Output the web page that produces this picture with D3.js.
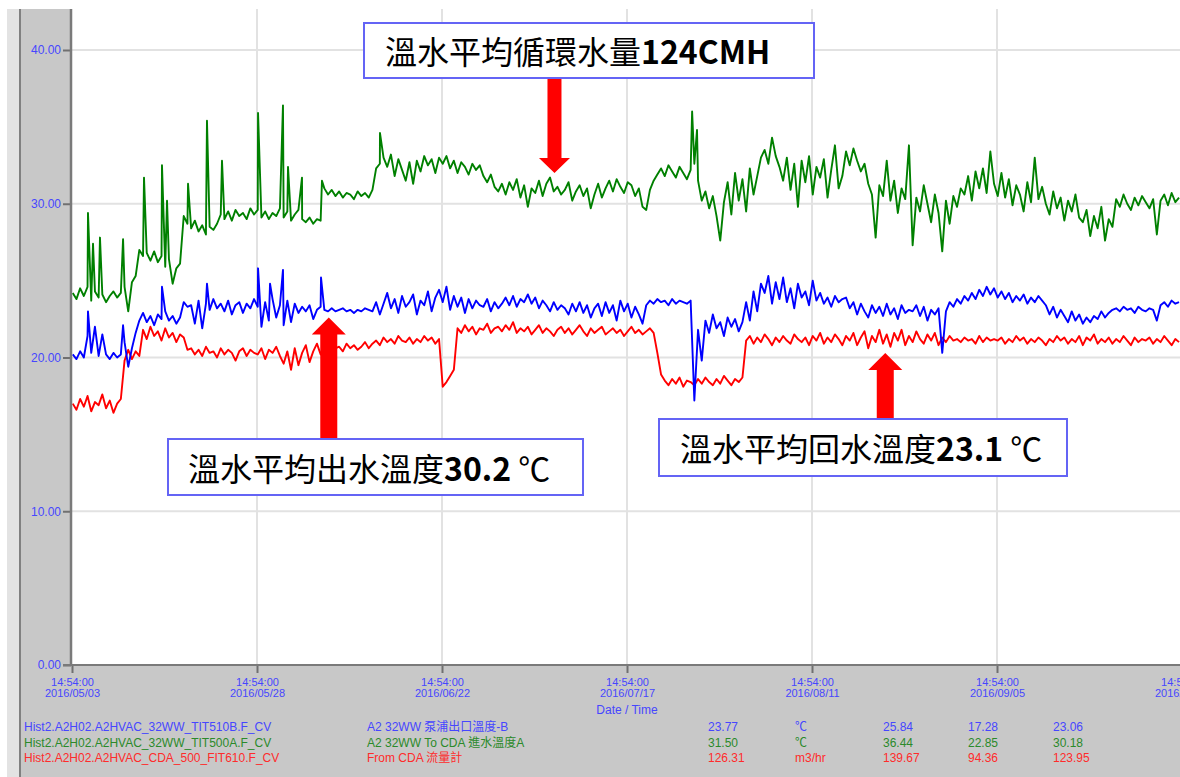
<!DOCTYPE html>
<html><head><meta charset="utf-8">
<script src="https://cdn.jsdelivr.net/npm/d3@7"></script>
<style>
html,body{margin:0;padding:0;background:#fff;overflow:hidden}
svg{display:block}
</style></head><body>
<svg id="chart" width="1180" height="777"></svg>
<script>
// ---------------- DATA ----------------
const yTickValues = [0, 10, 20, 30, 40];
const tickDates = ["2016/05/03","2016/05/28","2016/06/22","2016/07/17","2016/08/11","2016/09/05","2016/09/30"];
const tickTime = "14:54:00";
const startStamp = "2016/05/03 14:54:00";
const sampleStepDays = 0.5;     // one reading every 12 h
const sampleOffsetDays = 0.1;

// 32WW To CDA 進水溫度A (green)
const greenVals = [
24.2,23.8,24.5,24.0,24.6,23.7,24.3,23.9,24.1,23.6,
24.0,24.3,23.9,24.2,24.6,23.0,24.9,25.3,27.0,26.6,
26.8,26.3,26.9,26.2,26.6,25.9,26.4,24.8,25.8,26.1,
29.2,28.7,28.4,28.9,28.2,28.6,28.0,28.5,28.3,28.7,
29.3,29.0,29.5,28.9,29.6,29.2,29.4,29.0,29.7,29.3,
29.6,29.1,29.5,29.0,29.4,29.2,29.7,29.1,29.5,28.9,
29.3,29.6,29.0,28.8,29.1,28.7,29.0,28.9,31.0,30.6,
30.9,30.5,30.8,30.4,30.7,30.6,30.3,30.8,30.5,30.7,
30.4,30.9,32.3,32.6,33.0,32.4,33.2,31.8,32.9,32.2,
31.5,32.7,31.3,32.8,32.1,33.1,32.5,32.9,32.0,33.0,
32.6,33.1,32.3,32.8,32.0,32.7,32.4,31.9,32.6,32.2,
32.5,31.8,31.4,31.9,31.1,30.8,31.3,30.6,31.4,30.9,
31.6,30.4,31.2,29.8,31.0,30.7,31.5,30.5,31.3,31.7,
30.8,31.1,30.6,30.9,31.4,30.2,30.8,31.2,30.5,31.0,
29.7,30.6,31.3,30.4,31.0,31.5,30.8,31.6,31.1,30.7,
31.4,31.2,30.5,31.0,29.8,29.6,30.9,31.5,31.9,32.3,
31.8,32.5,32.1,31.7,32.4,32.0,31.6,32.2,32.6,31.5,
30.2,30.8,29.7,30.5,29.2,27.6,30.1,31.4,29.3,32.0,
30.2,31.6,29.5,32.3,30.6,31.8,33.0,33.5,32.6,34.3,
33.1,32.4,31.5,33.0,30.9,32.6,29.8,32.8,31.4,33.1,
30.6,32.4,31.7,32.9,30.4,32.2,33.8,31.0,31.8,33.4,
32.5,33.6,32.8,32.1,32.6,31.3,30.6,27.8,31.2,30.5,
32.8,30.2,31.5,29.4,31.0,30.3,33.8,27.3,30.4,29.5,
31.2,30.0,28.8,30.6,29.4,26.9,30.2,28.7,30.5,29.8,
31.0,30.6,31.8,30.2,32.1,31.0,32.3,30.7,33.4,31.3,
30.5,32.0,30.4,31.6,29.9,31.2,30.6,29.5,31.4,30.1,
33.0,30.3,31.1,30.0,29.3,30.8,29.7,30.4,28.9,30.2,
29.5,30.6,29.1,28.8,29.6,27.9,29.2,28.4,29.8,27.6,
29.0,28.5,30.3,29.8,30.6,30.0,29.6,30.4,29.9,30.5,
30.1,29.7,30.3,28.0,30.2,30.6,29.9,30.7,30.1,30.4
];
// 泵浦出口溫度-B (blue)
const blueVals = [
20.2,19.9,20.4,20.0,21.4,20.3,22.0,20.1,21.5,20.2,
19.9,20.3,20.0,20.2,21.0,19.4,20.6,21.6,22.4,22.9,
22.3,22.7,22.1,22.8,22.5,23.0,22.4,22.7,22.2,22.6,
23.6,23.3,23.4,22.2,23.7,21.9,23.5,23.1,23.8,23.2,
23.5,23.0,23.7,22.8,23.4,23.6,22.9,23.5,23.2,23.8,
23.3,22.0,23.6,22.4,23.8,22.6,23.4,22.1,23.7,22.3,
23.5,22.9,23.3,23.0,23.4,22.5,23.1,23.3,23.1,23.0,
23.2,23.0,23.1,23.2,23.0,23.1,22.9,23.1,23.0,23.2,
23.1,23.0,23.6,22.8,23.5,24.2,23.2,23.8,22.9,24.0,
23.3,23.6,24.1,22.8,23.7,23.4,24.3,23.0,23.9,24.4,
23.6,24.6,23.1,24.0,23.3,23.9,22.9,23.8,23.2,23.7,
23.4,23.3,23.8,23.0,23.6,23.2,23.5,23.9,23.4,24.0,
23.3,23.8,23.6,24.1,23.5,23.9,23.2,23.7,23.4,23.0,
23.6,23.1,23.4,23.2,22.8,23.5,23.0,23.6,22.9,23.4,
22.6,23.2,23.5,22.7,23.6,22.9,23.4,22.4,23.7,23.0,
23.5,22.6,23.3,22.8,22.2,23.4,23.7,23.5,23.8,23.6,
23.7,23.4,23.8,23.5,23.7,23.6,23.5,23.7,17.2,21.8,
19.8,22.4,21.6,22.8,21.9,22.3,21.4,22.6,22.0,22.5,
21.7,22.3,23.6,22.4,24.3,23.0,24.8,24.2,25.3,23.5,
24.9,23.8,25.2,23.6,24.5,23.2,24.8,23.9,24.3,23.4,
25.0,23.7,24.2,23.5,23.9,23.3,24.0,23.6,23.8,23.9,
23.2,23.6,22.8,23.5,23.0,22.6,23.4,22.9,23.3,22.7,
23.5,22.8,23.2,22.5,23.4,22.9,23.1,23.0,23.4,22.7,
23.3,22.4,23.1,22.8,23.2,20.3,23.0,23.6,23.3,23.8,
23.5,24.0,23.7,24.2,23.8,24.4,24.0,24.6,24.1,24.5,
23.9,24.3,23.8,24.2,23.6,24.0,23.7,24.1,23.5,23.9,
23.6,24.0,23.7,23.4,22.8,23.3,22.6,23.1,22.7,22.3,
23.0,22.4,22.8,22.2,22.6,22.3,22.7,22.5,23.0,22.6,
22.9,23.1,23.2,23.0,23.3,23.1,23.2,22.9,23.3,23.1,
23.0,23.2,23.1,22.4,23.4,23.6,23.3,23.7,23.5,23.6
];
// From CDA 流量計 (red)
const redVals = [
17.0,16.6,17.3,16.8,17.5,16.5,17.1,16.9,17.6,16.7,
17.2,16.4,17.0,17.3,19.8,20.5,19.9,20.4,20.1,21.8,
21.2,22.0,21.4,21.7,21.1,21.9,21.3,21.6,21.0,21.5,
21.3,20.5,20.6,20.2,20.5,20.1,20.7,20.3,20.4,20.0,
20.6,20.2,20.5,20.3,19.8,20.4,20.6,20.1,20.5,20.3,
20.2,20.6,19.9,20.5,20.3,20.7,20.1,19.6,20.4,19.2,
20.6,19.5,20.3,20.8,19.7,20.4,20.9,20.2,20.8,20.5,
20.9,20.6,20.7,20.4,20.9,20.6,20.8,20.5,20.7,21.0,
20.6,20.9,21.1,20.8,21.3,21.0,21.2,20.9,21.4,21.1,
21.0,21.3,20.9,21.2,21.0,21.4,21.1,21.3,20.9,21.2,
18.1,18.4,18.8,19.2,21.9,21.6,22.1,21.7,22.0,21.5,
21.9,21.8,22.2,21.6,21.9,22.0,21.7,22.1,21.8,22.3,
21.6,21.9,21.7,22.0,21.5,21.8,22.1,21.6,21.9,21.7,
21.4,21.8,22.0,21.6,21.9,21.5,21.8,22.1,21.7,21.4,
21.9,21.6,21.8,22.0,21.5,21.7,21.9,21.6,21.8,21.4,
21.7,22.0,21.6,21.8,21.5,21.7,21.9,21.6,20.3,18.9,
18.5,18.2,18.6,18.3,18.7,18.1,18.5,18.4,18.2,18.6,
18.3,18.7,18.4,18.2,18.6,18.3,18.8,18.5,18.2,18.6,
18.4,18.7,21.1,21.4,20.9,21.3,21.0,21.5,21.2,20.8,
21.3,21.0,21.4,21.1,20.9,21.5,21.2,21.0,21.3,20.8,
21.4,21.1,21.6,20.9,21.3,21.0,21.5,21.2,20.8,21.4,
21.1,21.6,20.8,21.3,21.7,20.6,21.4,21.0,21.8,20.9,
21.5,20.7,21.6,21.1,21.8,20.8,21.4,21.0,21.7,21.2,
20.9,21.5,21.1,21.6,20.8,21.3,21.0,21.4,21.1,21.2,
21.0,21.3,21.1,21.2,20.9,21.4,21.0,21.3,21.1,21.2,
21.1,21.3,20.9,21.2,21.0,21.4,21.1,21.3,20.9,21.2,
21.0,21.3,21.1,20.8,21.2,21.0,21.4,21.1,21.3,20.9,
21.2,21.0,21.4,20.8,21.3,21.1,21.5,20.9,21.2,21.0,
21.3,20.9,21.2,21.0,21.4,21.1,20.8,21.3,21.0,21.2,
21.1,21.3,20.9,21.2,21.0,21.4,21.1,20.8,21.2,21.0
];
// short spikes: [days after start, value]
const greenSpikes = [[2.16,29.4],[2.84,27.4],[3.78,27.8],[6.9,27.7],[9.73,31.7],[12.16,32.5],[12.84,30.2],
  [15.68,31.3],[18.24,35.4],[20.27,32.8],[25.14,35.9],[28.51,36.4],[29.19,32.4],[31.08,31.7],[33.78,31.5],
  [41.62,34.6],[83.8,36.0],[84.46,34.8]];
const blueSpikes = [[2.16,23.0],[6.9,22.1],[12.16,24.6],[18.24,24.8],[25.14,25.8],[26.76,24.8],[28.51,25.7],[33.65,25.2]];

// legend table
const legendTags = ["Hist2.A2H02.A2HVAC_32WW_TIT510B.F_CV","Hist2.A2H02.A2HVAC_32WW_TIT500A.F_CV","Hist2.A2H02.A2HVAC_CDA_500_FIT610.F_CV"];
const legendDescs = ["A2 32WW 泵浦出口溫度-B","A2 32WW To CDA 進水溫度A","From CDA 流量計"];
const legendCurrent = ["23.77","31.50","126.31"];
const legendUnits = ["℃","℃","m3/hr"];
const legendMax = ["25.84","36.44","139.67"];
const legendMin = ["17.28","22.85","94.36"];
const legendAvg = ["23.06","30.18","123.95"];

// callouts
const calloutCjk = ["溫水平均循環水量","溫水平均出水溫度","溫水平均回水溫度"];
const calloutNum = ["124CMH","30.2","23.1"];
const calloutUnit = [""," ℃"," ℃"];
const calloutTarget = [[65.2,32.0],[34.7,22.6],[109.9,20.3]]; // [days, value] where arrows point

// ---------------- DRAW ----------------
const svg = d3.select("#chart");
const W = 1180, H = 777;
const parse = d3.utcParse("%Y/%m/%d %H:%M:%S");
const t0 = parse(startStamp);
const DAY = 864e5;
const tickDateObjs = tickDates.map(d => parse(d + " " + tickTime));

const x = d3.scaleUtc().domain([t0, tickDateObjs[tickDateObjs.length-1]]).range([72, 72 + 150*7.4]);
const y = d3.scaleLinear().domain([0, 40]).range([665, 50]);

const blueTxt = "#4646ff", greenTxt = "#2b8a2b", redTxt = "#ff2b2b";
const FONT = "'Liberation Sans', Arial, 'Noto Sans CJK TC', sans-serif";

// background chrome
svg.append("rect").attr("x",0).attr("y",0).attr("width",W).attr("height",H).attr("fill","#ffffff");
svg.append("rect").attr("x",7).attr("y",9).attr("width",13).attr("height",H-9).attr("fill","#e3e3e3");
svg.append("rect").attr("x",21).attr("y",9).attr("width",50).attr("height",H-9).attr("fill","#c8c8c8");
svg.append("rect").attr("x",21).attr("y",666).attr("width",W-21).attr("height",H-666).attr("fill","#c8c8c8");
svg.append("line").attr("x1",20).attr("x2",20).attr("y1",9).attr("y2",H).attr("stroke","#808080").attr("stroke-width",2);

// grid
const grid = svg.append("g");
grid.selectAll("line.h").data(yTickValues.filter(v => v > 0)).join("line")
  .attr("x1",72).attr("x2",W).attr("y1",d=>y(d)).attr("y2",d=>y(d))
  .attr("stroke","#e2e2e2").attr("stroke-width",2);
grid.selectAll("line.v").data(tickDateObjs.slice(1)).join("line")
  .attr("x1",d=>x(d)).attr("x2",d=>x(d)).attr("y1",9).attr("y2",665)
  .attr("stroke","#e2e2e2").attr("stroke-width",2);

// series
function build(vals, spikes){
  const pts = vals.map((v,i)=>({t: new Date(t0.getTime() + (sampleOffsetDays + i*sampleStepDays)*DAY), v}));
  (spikes||[]).forEach(s => pts.push({t: new Date(t0.getTime() + s[0]*DAY), v: s[1]}));
  pts.sort((a,b)=>a.t-b.t);
  return pts;
}
const line = d3.line().x(d=>x(d.t)).y(d=>y(d.v));
const plot = svg.append("g");
[[greenVals, greenSpikes, "#008000"],[redVals, null, "#ff0000"],[blueVals, blueSpikes, "#0000ff"]].forEach(([vals, sp, col])=>{
  if (vals.length !== 300) console.error("length", vals.length);
  plot.append("path").datum(build(vals, sp)).attr("d", line)
    .attr("fill","none").attr("stroke",col).attr("stroke-width",1.9).attr("stroke-linejoin","round");
});

// axes
const yAxis = svg.append("g").attr("transform","translate(71,0)")
  .call(d3.axisLeft(y).tickValues(yTickValues).tickSize(8).tickPadding(2).tickFormat(d3.format(".2f")));
yAxis.select(".domain").remove();
yAxis.selectAll(".tick line").attr("stroke","#707070").attr("stroke-width",2);
yAxis.selectAll(".tick text").attr("fill",blueTxt).style("font-family",FONT).style("font-size","12px");
svg.append("line").attr("x1",71).attr("x2",71).attr("y1",9).attr("y2",666).attr("stroke","#7a7a7a").attr("stroke-width",2.5);

const xAxis = svg.append("g").attr("transform","translate(0,665)")
  .call(d3.axisBottom(x).tickValues(tickDateObjs).tickSize(8).tickFormat(""));
xAxis.select(".domain").remove();
xAxis.selectAll(".tick line").attr("stroke","#707070").attr("stroke-width",2);
xAxis.selectAll(".tick").each(function(d,i){
  const g = d3.select(this);
  g.append("text").attr("y",21).attr("text-anchor","middle").attr("fill",blueTxt)
    .style("font-family",FONT).style("font-size","11px").text(tickTime);
  g.append("text").attr("y",32).attr("text-anchor","middle").attr("fill",blueTxt)
    .style("font-family",FONT).style("font-size","11px").text(tickDates[i]);
});
svg.append("line").attr("x1",63).attr("x2",W).attr("y1",665).attr("y2",665).attr("stroke","#7a7a7a").attr("stroke-width",2);
svg.append("text").attr("x",x(tickDateObjs[3])).attr("y",714).attr("text-anchor","middle")
  .attr("fill",blueTxt).style("font-family",FONT).style("font-size","12px").text("Date / Time");

// legend rows
const legCols = [legendTags, legendDescs, legendCurrent, legendUnits, legendMax, legendMin, legendAvg];
const legX = [24, 367, 708, 795, 883, 968, 1053];
const legColors = [blueTxt, greenTxt, redTxt];
legCols.forEach((col, c)=>{
  svg.append("g").selectAll("text").data(col).join("text")
    .attr("x", legX[c]).attr("y",(d,i)=>731 + i*15.5)
    .attr("fill",(d,i)=>legColors[i]).style("font-family",FONT).style("font-size","12px")
    .text(d=>d);
});

// callouts with arrows
const boxes = [
  {x:364, y:23, w:450, h:55, tx:385, base:64, dir:"down"},
  {x:168, y:439, w:415, h:56, tx:188, base:481, dir:"up"},
  {x:659, y:419, w:408, h:57, tx:680, base:461, dir:"up"}
];
const ann = svg.append("g");
boxes.forEach((b,i)=>{
  const tx = x(new Date(t0.getTime() + calloutTarget[i][0]*DAY));
  const ty = y(calloutTarget[i][1]);
  let pts;
  if (b.dir === "down") {
    const top = b.y + b.h, hb = ty - 15;
    pts = [[tx-7,top],[tx+7,top],[tx+7,hb],[tx+15.5,hb],[tx,ty],[tx-15.5,hb],[tx-7,hb]];
  } else {
    const bot = b.y, hb = ty + 17;
    pts = [[tx-8.5,bot],[tx+8.5,bot],[tx+8.5,hb],[tx+17,hb],[tx,ty],[tx-17,hb],[tx-8.5,hb]];
  }
  ann.append("polygon").attr("points", pts.map(p=>p.join(",")).join(" ")).attr("fill","#ff0000");
  ann.append("rect").attr("x",b.x).attr("y",b.y).attr("width",b.w).attr("height",b.h)
    .attr("fill","#ffffff").attr("stroke","#6464f5").attr("stroke-width",2);
  const t = ann.append("text").attr("x",b.tx).attr("y",b.base).attr("fill","#000")
    .style("font-family","'Noto Sans CJK TC','Noto Sans CJK SC',sans-serif").style("font-size","32px");
  t.append("tspan").text(calloutCjk[i]);
  t.append("tspan").style("font-weight","bold").text(calloutNum[i]);
  if (calloutUnit[i]) t.append("tspan").text(calloutUnit[i]);
});
</script>
</body></html>
